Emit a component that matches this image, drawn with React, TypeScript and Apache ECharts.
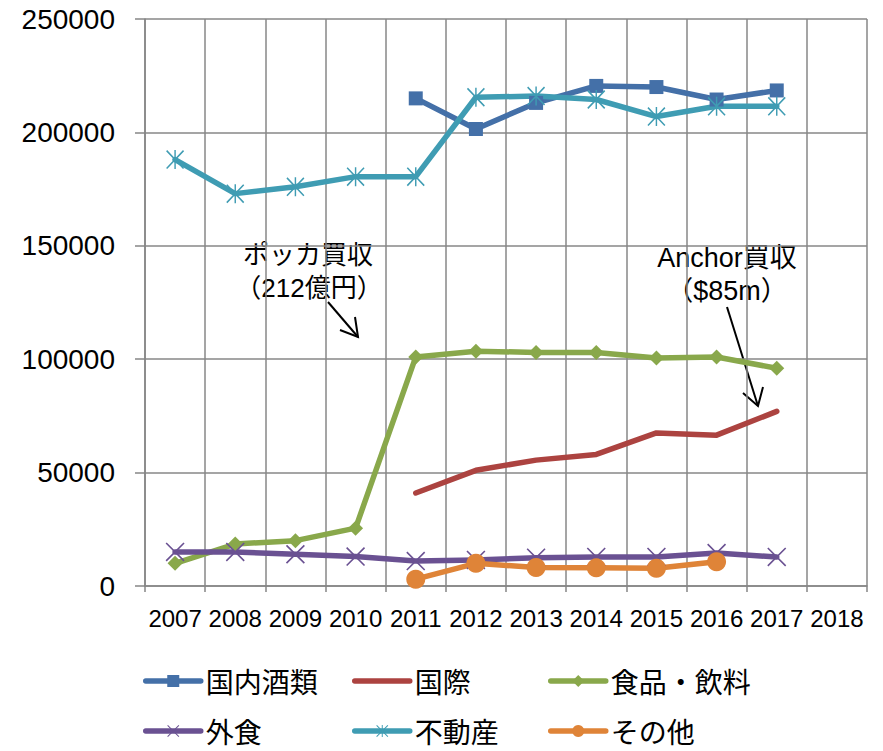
import React, { useEffect, useRef } from "react";
import * as echarts from "echarts";

const years = ["2007", "2008", "2009", "2010", "2011", "2012", "2013", "2014", "2015", "2016", "2017", "2018"];
const yTicks = [0, 50000, 100000, 150000, 200000, 250000];

const domestic = [null, null, null, null, 215000, 201500, 213000, 220500, 220000, 214500, 218500, null];
const international = [null, null, null, null, 41000, 51000, 55500, 58000, 67500, 66500, 77000, null];
const foodBeverage = [10000, 18500, 20000, 25500, 101000, 103500, 103000, 103000, 100500, 101000, 96000, null];
const dining = [15000, 15000, 14000, 13000, 11000, 11500, 12500, 12800, 12800, 14500, 12800, null];
const realEstate = [188000, 173000, 176000, 180500, 180500, 215500, 216000, 214500, 207000, 211500, 211500, null];
const others = [null, null, null, null, 3000, 10000, 8200, 8000, 7800, 10700, null, null];

const seriesNames = ["国内酒類", "国際", "食品・飲料", "外食", "不動産", "その他"];
const colors = ["#4470A8", "#AC4340", "#89A84B", "#6A5192", "#3F9CB3", "#DF8438"];

const X_PATH = "path://M0,6 L6,0 L100,94 L94,100 Z M94,0 L100,6 L6,100 L0,94 Z";
const STAR_PATH =
  "path://M46,0 L54,0 L54,100 L46,100 Z M0,6 L6,0 L100,94 L94,100 Z M94,0 L100,6 L6,100 L0,94 Z";

export default function App() {
  const ref = useRef<HTMLDivElement>(null);
  useEffect(() => {
    if (!ref.current) return;
    const chart = echarts.init(ref.current, null, { renderer: "svg" });
    const lw = 5.5;
    const mk = (
      name: string,
      data: (number | null)[],
      color: string,
      symbol: string,
      symbolSize: number | number[]
    ) => ({
      name,
      type: "line",
      data,
      connectNulls: false,
      symbol,
      symbolSize,
      showSymbol: symbol !== "none",
      color,
      lineStyle: { color, width: lw, cap: "round", join: "round" },
      itemStyle: { color, borderWidth: 0 },
      emphasis: { disabled: true },
    });
    const legendPos = [
      [143, 666],
      [352, 666],
      [548, 666],
      [143, 716],
      [352, 716],
      [548, 716],
    ];
    const font = '"Liberation Sans", "Noto Sans CJK JP", sans-serif';
    const option: any = {
      animation: false,
      grid: { left: 145, right: 16, top: 19, bottom: 165, containLabel: false },
      xAxis: {
        type: "category",
        data: years,
        boundaryGap: true,
        axisLine: { lineStyle: { color: "#868686", width: 1.5 } },
        axisTick: { show: true, length: 6, lineStyle: { color: "#868686", width: 1.5 } },
        axisLabel: {
          interval: 0,
          margin: 20,
          fontSize: 24,
          fontFamily: "Liberation Sans",
          color: "#000",
        },
        splitLine: { show: true, lineStyle: { color: "#878787", width: 1.5 } },
      },
      yAxis: {
        type: "value",
        min: yTicks[0],
        max: yTicks[yTicks.length - 1],
        interval: yTicks[1] - yTicks[0],
        axisLine: { show: true, lineStyle: { color: "#868686", width: 1.5 } },
        axisTick: { show: true, length: 10, lineStyle: { color: "#868686", width: 1.5 } },
        axisLabel: {
          margin: 30,
          fontSize: 28,
          fontFamily: "Liberation Sans",
          color: "#000",
          formatter: (v: number) => String(v),
        },
        splitLine: { show: true, lineStyle: { color: "#878787", width: 1.5 } },
      },
      legend: seriesNames.map((n, i) => ({
        data: [i === 1 ? { name: n, itemStyle: { opacity: 0 } } : n],
        left: legendPos[i][0],
        top: legendPos[i][1],
        padding: 0,
        itemWidth: 55,
        itemHeight: 15,
        selectedMode: false,
        lineStyle: { width: 5.5 },
        textStyle: { fontSize: 28, lineHeight: 30, fontFamily: '"Noto Sans CJK JP"', color: "#000" },
      })),
      series: [
        mk(seriesNames[0], domestic, colors[0], "rect", 14),
        mk(seriesNames[1], international, colors[1], "none", 0),
        mk(seriesNames[2], foodBeverage, colors[2], "diamond", 15),
        mk(seriesNames[3], dining, colors[3], X_PATH, 19),
        mk(seriesNames[4], realEstate, colors[4], STAR_PATH, [18, 19]),
        mk(seriesNames[5], others, colors[5], "circle", 19),
      ],
      graphic: [
        {
          type: "text",
          x: 308,
          y: 255,
          style: { text: "ポッカ買収", fontSize: 26, fontFamily: font, fill: "#000", align: "center", verticalAlign: "middle" },
        },
        {
          type: "text",
          x: 309,
          y: 288,
          style: { text: "（212億円）", fontSize: 26, fontFamily: font, fill: "#000", align: "center", verticalAlign: "middle" },
        },
        { type: "line", shape: { x1: 328, y1: 302, x2: 358, y2: 337 }, style: { stroke: "#000", lineWidth: 2 } },
        {
          type: "polyline",
          shape: { points: [[340, 330], [358, 337], [355, 317]] },
          style: { stroke: "#000", lineWidth: 2, fill: null },
        },
        {
          type: "text",
          x: 727,
          y: 258,
          style: { text: "Anchor買収", fontSize: 27, fontFamily: font, fill: "#000", align: "center", verticalAlign: "middle" },
        },
        {
          type: "text",
          x: 727,
          y: 291,
          style: { text: "（$85m）", fontSize: 27, fontFamily: font, fill: "#000", align: "center", verticalAlign: "middle" },
        },
        { type: "line", shape: { x1: 727, y1: 307, x2: 758, y2: 406 }, style: { stroke: "#000", lineWidth: 2 } },
        {
          type: "polyline",
          shape: { points: [[743, 393], [758, 406], [763, 387]] },
          style: { stroke: "#000", lineWidth: 2, fill: null },
        },
      ],
    };
    chart.setOption(option);
    return () => chart.dispose();
  }, []);
  return (
    <div
      ref={ref}
      style={{ position: "absolute", left: 0, top: 0, width: 883, height: 751, background: "#fff" }}
    />
  );
}
